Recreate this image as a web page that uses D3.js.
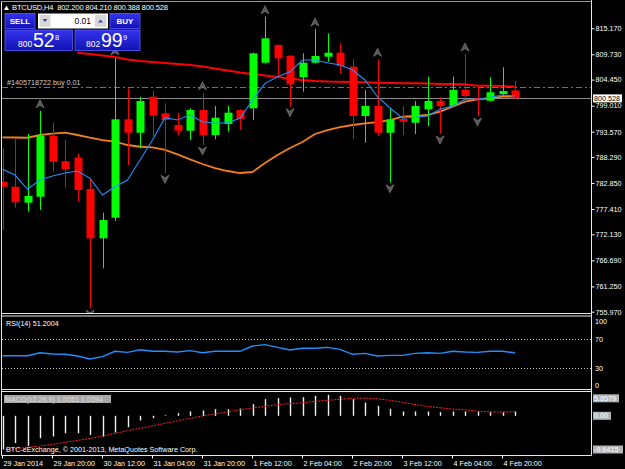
<!DOCTYPE html>
<html>
<head>
<meta charset="utf-8">
<script src="https://cdn.jsdelivr.net/npm/d3@7"></script>
<style>
html, body { margin: 0; padding: 0; background: #000; }
svg { display: block; }
</style>
</head>
<body>
<svg id="vis"></svg>
<script>
const WIDTH = 625;
const HEIGHT = 469;
const FONT = '"Liberation Sans", Arial, sans-serif';
const BULL = "#00ff00";
const BEAR = "#ff0000";

// H4 bars, 29 Jan 04:00 .. 5 Feb 00:00
const OPEN = [783.12, 782.08, 778.74, 779.99, 792.67, 787.40, 788.14, 781.60, 771.30, 775.60, 796.16, 793.36, 800.88, 797.41, 794.97, 793.78, 798.10, 792.88, 795.18, 798.10, 798.46, 807.98, 811.68, 809.44, 804.93, 807.98, 809.24, 810.07, 807.15, 796.85, 798.94, 793.36, 796.22, 795.45, 798.25, 799.98, 798.94, 802.28, 800.67, 800.04, 801.44, 802.20];
const HIGH = [790.10, 792.19, 793.09, 797.95, 795.45, 791.83, 789.06, 783.83, 776.65, 808.96, 802.63, 800.88, 802.13, 799.50, 797.54, 798.46, 801.71, 798.94, 798.94, 798.25, 810.10, 817.59, 811.80, 809.59, 809.95, 815.02, 814.12, 812.03, 808.69, 802.28, 808.69, 798.46, 798.94, 799.98, 805.06, 800.82, 805.06, 809.80, 803.11, 804.93, 807.02, 804.21];
const LOW = [773.03, 777.69, 776.86, 777.21, 785.21, 781.87, 778.95, 756.68, 765.03, 774.91, 786.61, 790.10, 792.67, 784.88, 792.88, 791.83, 790.79, 791.98, 793.57, 793.92, 796.01, 807.80, 805.06, 798.79, 801.92, 807.80, 808.19, 805.62, 791.98, 791.27, 792.67, 782.91, 792.88, 793.09, 794.76, 793.09, 798.80, 800.34, 796.85, 799.83, 801.03, 800.388];
const CLOSE = [782.08, 778.82, 780.14, 792.67, 787.30, 785.78, 781.39, 771.30, 775.12, 796.16, 793.36, 799.98, 796.91, 796.01, 793.78, 798.10, 792.88, 796.49, 797.54, 796.22, 809.95, 813.08, 808.90, 803.47, 807.98, 809.38, 810.07, 807.29, 796.85, 798.94, 793.36, 796.16, 795.66, 798.94, 799.98, 798.94, 802.28, 801.03, 800.34, 801.80, 802.07, 800.528];

const MA_FAST = [785.71, 784.52, 781.54, 783.48, 784.31, 784.94, 785.36, 783.83, 780.35, 782.08, 783.48, 787.66, 791.83, 796.49, 796.01, 797.06, 795.66, 795.32, 795.45, 796.37, 800.19, 803.68, 805.06, 806.10, 808.55, 808.55, 807.98, 807.50, 806.46, 804.37, 800.88, 798.52, 796.37, 796.58, 796.85, 798.25, 798.94, 800.34, 800.34, 800.75, 801.23, 801.03];
const MA_SLOW = [792.40, 792.36, 792.31, 792.88, 793.19, 793.36, 792.88, 792.31, 791.83, 791.48, 790.79, 790.43, 790.31, 789.75, 788.85, 787.80, 786.82, 785.98, 785.36, 784.94, 785.15, 787.03, 788.70, 790.16, 791.42, 793.09, 793.92, 794.55, 794.97, 795.32, 795.59, 796.01, 796.70, 796.85, 797.06, 797.75, 798.79, 799.84, 800.34, 800.55, 800.88, 800.88];
const MA_LONG = [null, null, null, null, null, null, 810.07, 809.80, 809.49, 809.17, 808.65, 808.34, 808.13, 807.92, 807.71, 807.50, 807.19, 806.77, 806.35, 805.93, 805.62, 805.31, 805.00, 804.68, 804.37, 804.16, 804.05, 804.01, 803.95, 803.89, 803.80, 803.74, 803.68, 803.68, 803.64, 803.53, 803.53, 803.47, 803.18, 803.18, 803.12, 802.97];

const FRACTAL_UP = [3, 9, 16, 21, 25, 30, 37];
const FRACTAL_DOWN = [7, 13, 16, 23, 31, 35, 38];

const RSI = [47.2, 47.2, 47.2, 51.3, 49.5, 49.1, 46.8, 42.7, 45.9, 53.2, 51.8, 55.4, 53.2, 53.2, 52.2, 54.1, 51.3, 53.2, 53.2, 53.2, 60.4, 62.3, 58.6, 55.0, 57.3, 57.3, 58.6, 55.9, 49.1, 50.4, 46.8, 47.7, 47.7, 50.4, 51.3, 50.4, 53.2, 52.2, 51.8, 53.2, 53.2, 51.2004];
const RSI_LEVELS = [70, 30];
const RSI_TICKS = [100, 70, 30, 0];

const MACD_MAIN = [-8.2, -6.7, -7.4, -5.5, -5.1, -4.3, -4.3, -4.7, -5.1, -4.1, -2.8, -1.15, -0.57, 0.16, 0.66, 1.07, 1.31, 1.64, 1.64, 1.80, 2.87, 4.10, 4.35, 4.51, 4.59, 4.92, 5.17, 4.92, 4.10, 3.28, 2.46, 1.72, 1.07, 1.07, 1.07, 0.90, 1.07, 1.07, 1.07, 0.90, 0.90, 1.0051];
const MACD_SIGNAL = [-8.36, -8.04, -7.75, -7.43, -7.04, -6.52, -6.05, -5.58, -4.97, -4.31, -3.69, -3.08, -2.51, -1.85, -1.23, -0.62, -0.05, 0.49, 0.98, 1.48, 1.92, 2.34, 2.71, 3.00, 3.22, 3.57, 3.81, 4.06, 4.31, 4.35, 4.18, 3.81, 3.32, 2.78, 2.34, 1.97, 1.67, 1.48, 1.16, 0.98, 0.91, 1.0394];
const MACD_TICKS = ["5.8579", "0.00", "-9.6415"];

const PRICE_TICKS = [815.17, 809.73, 804.45, 799.01, 793.57, 788.29, 782.85, 777.41, 772.13, 766.69, 761.25, 755.97];
const TIME_TICKS = [0, 4, 8, 12, 16, 20, 24, 28, 32, 36, 40];
const TIME_LABELS = ["29 Jan 2014", "29 Jan 20:00", "30 Jan 12:00", "31 Jan 04:00", "31 Jan 20:00", "1 Feb 12:00", "2 Feb 04:00", "2 Feb 20:00", "3 Feb 12:00", "4 Feb 04:00", "4 Feb 20:00"];

const BID = 800.528;
const ORDER_PRICE = 802.84;
const ORDER_LABEL = "#1405718722 buy 0.01";
const HEADER = "BTCUSD,H4  802.200 804.210 800.388 800.528";

const bars = d3.range(OPEN.length);

const svg = d3.select("#vis")
    .attr("width", WIDTH)
    .attr("height", HEIGHT)
    .style("font-family", FONT);

const x = d3.scaleLinear().domain([0, 41]).range([2.5, 515]);
const y = d3.scaleLinear().domain([755.97, 815.17]).range([311.7, 28.3]);
const rsiY = d3.scaleLinear().domain([0, 100]).range([390.3, 317]);
const macdY = d3.scaleLinear().domain([-9.6415, 5.8579]).range([455, 392]);


function main() {
    svg.append("rect").attr("width", WIDTH).attr("height", HEIGHT).attr("fill", "#000");
    const defs = svg.append("defs");
    defs.append("clipPath").attr("id", "mainClip")
        .append("rect").attr("x", 2).attr("y", 2).attr("width", 589).attr("height", 311);
    const grad = defs.append("linearGradient").attr("id", "btnGrad")
        .attr("x1", 0).attr("y1", 0).attr("x2", 0).attr("y2", 1);
    grad.append("stop").attr("offset", "0%").attr("stop-color", "#3434ee");
    grad.append("stop").attr("offset", "100%").attr("stop-color", "#1212b4");

    drawMain();
    drawRsi();
    drawMacd();
    drawFrame();
    drawAxes();
    drawTradePanel();
}


function drawMain() {
    const g = svg.append("g").attr("clip-path", "url(#mainClip)");

    // bid line and order line
    g.append("line")
        .attr("x1", 2).attr("x2", 592)
        .attr("y1", Math.round(y(BID)) + 0.5).attr("y2", Math.round(y(BID)) + 0.5)
        .attr("stroke", "#8c8c8c");
    g.append("line")
        .attr("x1", 2).attr("x2", 592)
        .attr("y1", Math.round(y(ORDER_PRICE)) + 0.5).attr("y2", Math.round(y(ORDER_PRICE)) + 0.5)
        .attr("stroke", "#00c000").attr("stroke-width", 1.2)
        .attr("stroke-dasharray", "6,3,2,3");
    g.append("text")
        .attr("x", 7).attr("y", y(ORDER_PRICE) - 2.5)
        .attr("font-size", 7.2).attr("fill", "#d0d0d0")
        .text(ORDER_LABEL);

    const line = arr => d3.line()
        .defined(i => arr[i] !== null)
        .x(i => x(i))
        .y(i => y(arr[i]))(bars);

    g.append("path").attr("d", line(MA_LONG))
        .attr("fill", "none").attr("stroke", "#ff0000").attr("stroke-width", 2);
    g.append("path").attr("d", line(MA_SLOW))
        .attr("fill", "none").attr("stroke", "#f2801e").attr("stroke-width", 1.8);

    // candles
    const candles = g.selectAll(".candle").data(bars).join("g").attr("class", "candle");
    candles.append("line")
        .attr("x1", i => Math.round(x(i)) + 0.5).attr("x2", i => Math.round(x(i)) + 0.5)
        .attr("y1", i => y(HIGH[i])).attr("y2", i => y(LOW[i]))
        .attr("stroke", i => CLOSE[i] >= OPEN[i] ? BULL : BEAR);
    candles.append("rect")
        .attr("x", i => Math.round(x(i)) - 3.5)
        .attr("width", 8)
        .attr("y", i => y(Math.max(OPEN[i], CLOSE[i])))
        .attr("height", i => Math.max(1.2, y(Math.min(OPEN[i], CLOSE[i])) - y(Math.max(OPEN[i], CLOSE[i]))))
        .attr("fill", i => CLOSE[i] >= OPEN[i] ? BULL : BEAR);

    g.append("path").attr("d", line(MA_FAST))
        .attr("fill", "none").attr("stroke", "#1e90ff").attr("stroke-width", 1.1);

    // fractal arrows
    const up = "M0,-4 L4,4 L0,1.5 L-4,4 Z";
    const down = "M0,4 L4,-4 L0,-1.5 L-4,-4 Z";
    g.selectAll(".fup").data(FRACTAL_UP).join("path")
        .attr("class", "fup")
        .attr("transform", i => `translate(${x(i)},${y(HIGH[i]) - 7})`)
        .attr("d", up)
        .attr("fill", "#555").attr("stroke", "#8c8c8c").attr("stroke-width", 0.6);
    g.selectAll(".fdn").data(FRACTAL_DOWN).join("path")
        .attr("class", "fdn")
        .attr("transform", i => `translate(${x(i)},${y(LOW[i]) + 6})`)
        .attr("d", down)
        .attr("fill", "#555").attr("stroke", "#8c8c8c").attr("stroke-width", 0.6);

    // header
    svg.append("path").attr("d", "M4,10 L6.5,5.5 L9,10 Z").attr("fill", "#fff");
    svg.append("text").attr("x", 12).attr("y", 10)
        .attr("font-size", 7.6).attr("fill", "#fff")
        .attr("textLength", 156).attr("lengthAdjust", "spacing")
        .attr("xml:space", "preserve")
        .text(HEADER);
}


function drawRsi() {
    const g = svg.append("g");
    g.selectAll(".level").data(RSI_LEVELS).join("line")
        .attr("class", "level")
        .attr("x1", 2).attr("x2", 591)
        .attr("y1", d => Math.round(rsiY(d)) + 0.5).attr("y2", d => Math.round(rsiY(d)) + 0.5)
        .attr("stroke", "#c8c8c8").attr("stroke-dasharray", "1,2");
    g.append("path")
        .attr("d", d3.line().x(i => x(i)).y(i => rsiY(RSI[i]))(bars))
        .attr("fill", "none").attr("stroke", "#1e90ff").attr("stroke-width", 1.4);
    g.append("text").attr("x", 6).attr("y", 326)
        .attr("font-size", 7.2).attr("fill", "#fff")
        .text("RSI(14) " + RSI[RSI.length - 1].toFixed(4));
}


function drawMacd() {
    const g = svg.append("g");
    g.selectAll(".hist").data(bars).join("rect")
        .attr("class", "hist")
        .attr("x", i => Math.round(x(i)) - 0.2)
        .attr("width", 1.4)
        .attr("y", i => Math.min(macdY(0), macdY(MACD_MAIN[i])))
        .attr("height", i => Math.abs(macdY(MACD_MAIN[i]) - macdY(0)))
        .attr("fill", "#f0f0f0");
    g.append("path")
        .attr("d", d3.line().x(i => x(i)).y(i => macdY(MACD_SIGNAL[i]))(bars))
        .attr("fill", "none").attr("stroke", "#ff2020").attr("stroke-width", 1)
        .attr("stroke-dasharray", "2,1.2");

    const lbl = "MACD(12,26,9) " + MACD_MAIN[MACD_MAIN.length - 1].toFixed(4) + " " + MACD_SIGNAL[MACD_SIGNAL.length - 1].toFixed(4);
    g.append("rect").attr("x", 4).attr("y", 395).attr("width", 107).attr("height", 8).attr("fill", "#a8a8a8");
    g.append("text").attr("x", 5).attr("y", 401.8)
        .attr("font-size", 7.2).attr("fill", "#dedede").text(lbl);
    g.append("text").attr("x", 6).attr("y", 451.5)
        .attr("font-size", 7.2).attr("fill", "#fff")
        .text("BTC-eExchange, \u00a9 2001-2013, MetaQuotes Software Corp.");
}


function drawFrame() {
    const f = svg.append("g").attr("stroke", "#e8e8e8").attr("fill", "none");
    f.append("line").attr("x1", 1.5).attr("x2", 591.5).attr("y1", 1.5).attr("y2", 1.5).attr("stroke", "#9a9a9a");
    [313.5, 316, 389.5, 391.5, 455.5].forEach(v =>
        f.append("line").attr("x1", 1.5).attr("x2", 591.5).attr("y1", v).attr("y2", v));
    f.append("line").attr("x1", 1.5).attr("x2", 1.5).attr("y1", 1.5).attr("y2", 455.5);
    f.append("line").attr("x1", 591.5).attr("x2", 591.5).attr("y1", 0).attr("y2", 455.5);
}


function drawAxes() {
    const priceAxis = svg.append("g")
        .attr("transform", "translate(591.5,0)")
        .call(d3.axisRight(y).tickValues(PRICE_TICKS).tickSize(3).tickPadding(1).tickFormat(d3.format(".3f")));
    styleAxis(priceAxis);

    // bid price label
    svg.append("rect").attr("x", 593).attr("y", y(BID) - 4).attr("width", 29).attr("height", 8).attr("fill", "#fff");
    svg.append("text").attr("x", 594).attr("y", y(BID) + 2.6)
        .attr("font-size", 7.2).attr("fill", "#000").text(BID.toFixed(3));

    // RSI scale
    svg.selectAll(".rsiTick").data(RSI_TICKS).join("text")
        .attr("class", "rsiTick")
        .attr("x", 595)
        .attr("y", d => Math.min(Math.max(rsiY(d), 321.7), 385.5) + 2.6)
        .attr("font-size", 7.2).attr("fill", "#fff")
        .text(d => d);

    // MACD scale
    const mt = svg.selectAll(".macdTick").data(MACD_TICKS).join("g")
        .attr("class", "macdTick")
        .attr("transform", d => `translate(593,${Math.min(Math.max(macdY(+d), 398.3), 449.5)})`);
    mt.append("rect").attr("x", 0).attr("y", -4)
        .attr("width", d => d.length * 4 + 2).attr("height", 8).attr("fill", "#b4b4b4");
    mt.append("text").attr("x", 1).attr("y", 2.6)
        .attr("font-size", 7.2).attr("fill", "#fff").text(d => d);

    const timeAxis = svg.append("g")
        .attr("transform", "translate(-0.5,455.5)")
        .call(d3.axisBottom(x).tickValues(TIME_TICKS).tickSize(3).tickFormat((d, i) => TIME_LABELS[i]));
    styleAxis(timeAxis);
    timeAxis.selectAll("text").attr("text-anchor", "start").attr("dx", 1).attr("y", 5);
}


function styleAxis(g) {
    g.select(".domain").remove();
    g.selectAll("line").attr("stroke", "#fff");
    g.selectAll("text").attr("fill", "#fff").attr("font-size", 7.2).attr("font-family", FONT);
}


function drawTradePanel() {
    const p = svg.append("g");
    const blueBox = (bx, by, w, h) => p.append("rect")
        .attr("x", bx).attr("y", by).attr("width", w).attr("height", h)
        .attr("fill", "url(#btnGrad)").attr("stroke", "#5a5aff").attr("stroke-width", 0.8);

    blueBox(5, 13.5, 30, 15);
    blueBox(110, 13.5, 30, 15);
    blueBox(5, 30, 67.5, 20.5);
    blueBox(75, 30, 65, 20.5);

    p.append("text").attr("x", 20).attr("y", 24.3).attr("text-anchor", "middle")
        .attr("font-size", 8).attr("font-weight", "bold").attr("fill", "#fff").text("SELL");
    p.append("text").attr("x", 125).attr("y", 24.3).attr("text-anchor", "middle")
        .attr("font-size", 8).attr("font-weight", "bold").attr("fill", "#fff").text("BUY");

    // lot field
    p.append("rect").attr("x", 38).attr("y", 13.5).attr("width", 70).attr("height", 15).attr("fill", "#fff");
    p.append("rect").attr("x", 39.5).attr("y", 15).attr("width", 11).attr("height", 12).attr("fill", "#d8d8d8");
    p.append("rect").attr("x", 95).attr("y", 15).attr("width", 11.5).attr("height", 12).attr("fill", "#d8d8d8");
    p.append("path").attr("d", "M42.5,19 L47.5,19 L45,22 Z").attr("fill", "#3050a0");
    p.append("path").attr("d", "M98,22.5 L103,22.5 L100.5,19.5 Z").attr("fill", "#3050a0");
    p.append("text").attr("x", 91).attr("y", 24.3).attr("text-anchor", "end")
        .attr("font-size", 8.5).attr("fill", "#000").text("0.01");

    const price = (bx, big, sup) => {
        p.append("text").attr("x", bx).attr("y", 46.5).attr("font-size", 8.5).attr("fill", "#fff").text(big.slice(0, 3));
        p.append("text").attr("x", bx + 15).attr("y", 47).attr("font-size", 19.5).attr("fill", "#fff").text(big.slice(4, 6));
        p.append("text").attr("x", bx + 37).attr("y", 39.5).attr("font-size", 7.5).attr("fill", "#fff").text(sup);
    };
    price(18, "800.52", "8");
    price(86, "802.99", "9");
}


main();
</script>
</body>
</html>
